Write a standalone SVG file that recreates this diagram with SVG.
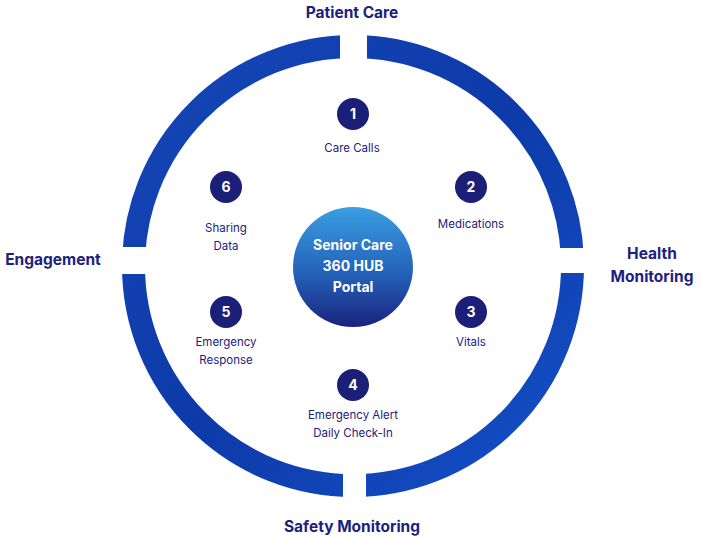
<svg xmlns="http://www.w3.org/2000/svg" width="703" height="539" viewBox="0 0 703 539">
<style>
.t{font-family:Inter,"Open Sans",sans-serif;font-weight:700;font-size:15.5px;fill:#1c2180;text-anchor:middle}
.l{font-family:Inter,"Open Sans",sans-serif;font-size:11.5px;fill:#1c2180;text-anchor:middle}
.n{font-family:Inter,"Open Sans",sans-serif;font-weight:700;font-size:14px;fill:#fff;text-anchor:middle}
.c{fill:#1c1f78}
</style>
<defs>
<linearGradient id="g" x1="0" y1="0" x2="0" y2="1"><stop offset="0" stop-color="#3a9ee2"/><stop offset="0.55" stop-color="#2462b8"/><stop offset="1" stop-color="#1a237e"/></linearGradient>
<linearGradient id="r" x1="0" y1="0" x2="1" y2="1"><stop offset="0" stop-color="#1646b8"/><stop offset="0.5" stop-color="#0d3aa8"/><stop offset="1" stop-color="#1550c8"/></linearGradient>
</defs>
<rect width="703" height="539" fill="#fff"/>
<g id="ring">
<circle cx="353" cy="266" r="219.5" fill="none" stroke="url(#r)" stroke-width="23"/>
<rect x="340" y="20" width="27" height="60" fill="#fff"/>
<rect x="343" y="455" width="23" height="60" fill="#fff"/>
<rect x="100" y="247" width="65" height="27" fill="#fff"/>
<rect x="540" y="248" width="65" height="25" fill="#fff"/>
</g>
<g id="hub"><circle cx="353" cy="267" r="60" fill="url(#g)"/>
<text class="n" x="353" y="250">Senior Care</text><text class="n" x="353" y="271">360 HUB</text><text class="n" x="353" y="292">Portal</text></g>
<g id="titles">
<text class="t" x="352" y="18">Patient Care</text>
<text class="t" x="652" y="259">Health</text><text class="t" x="652" y="282">Monitoring</text>
<text class="t" x="53" y="265">Engagement</text>
<text class="t" x="352" y="532">Safety Monitoring</text>
</g>
<g id="n1"><circle class="c" cx="353" cy="114" r="16"/><text class="n" x="353" y="119">1</text><text class="l" x="352" y="152">Care Calls</text></g>
<g id="n2"><circle class="c" cx="471" cy="187" r="16"/><text class="n" x="471" y="192">2</text><text class="l" x="471" y="228">Medications</text></g>
<g id="n3"><circle class="c" cx="471" cy="312" r="16"/><text class="n" x="471" y="317">3</text><text class="l" x="471" y="346">Vitals</text></g>
<g id="n4"><circle class="c" cx="353" cy="385" r="16"/><text class="n" x="353" y="390">4</text><text class="l" x="353" y="419">Emergency Alert</text><text class="l" x="353" y="437">Daily Check-In</text></g>
<g id="n5"><circle class="c" cx="226" cy="312" r="16"/><text class="n" x="226" y="317">5</text><text class="l" x="226" y="346">Emergency</text><text class="l" x="226" y="364">Response</text></g>
<g id="n6"><circle class="c" cx="226" cy="187" r="16"/><text class="n" x="226" y="192">6</text><text class="l" x="226" y="232">Sharing</text><text class="l" x="226" y="250">Data</text></g>
</svg>
